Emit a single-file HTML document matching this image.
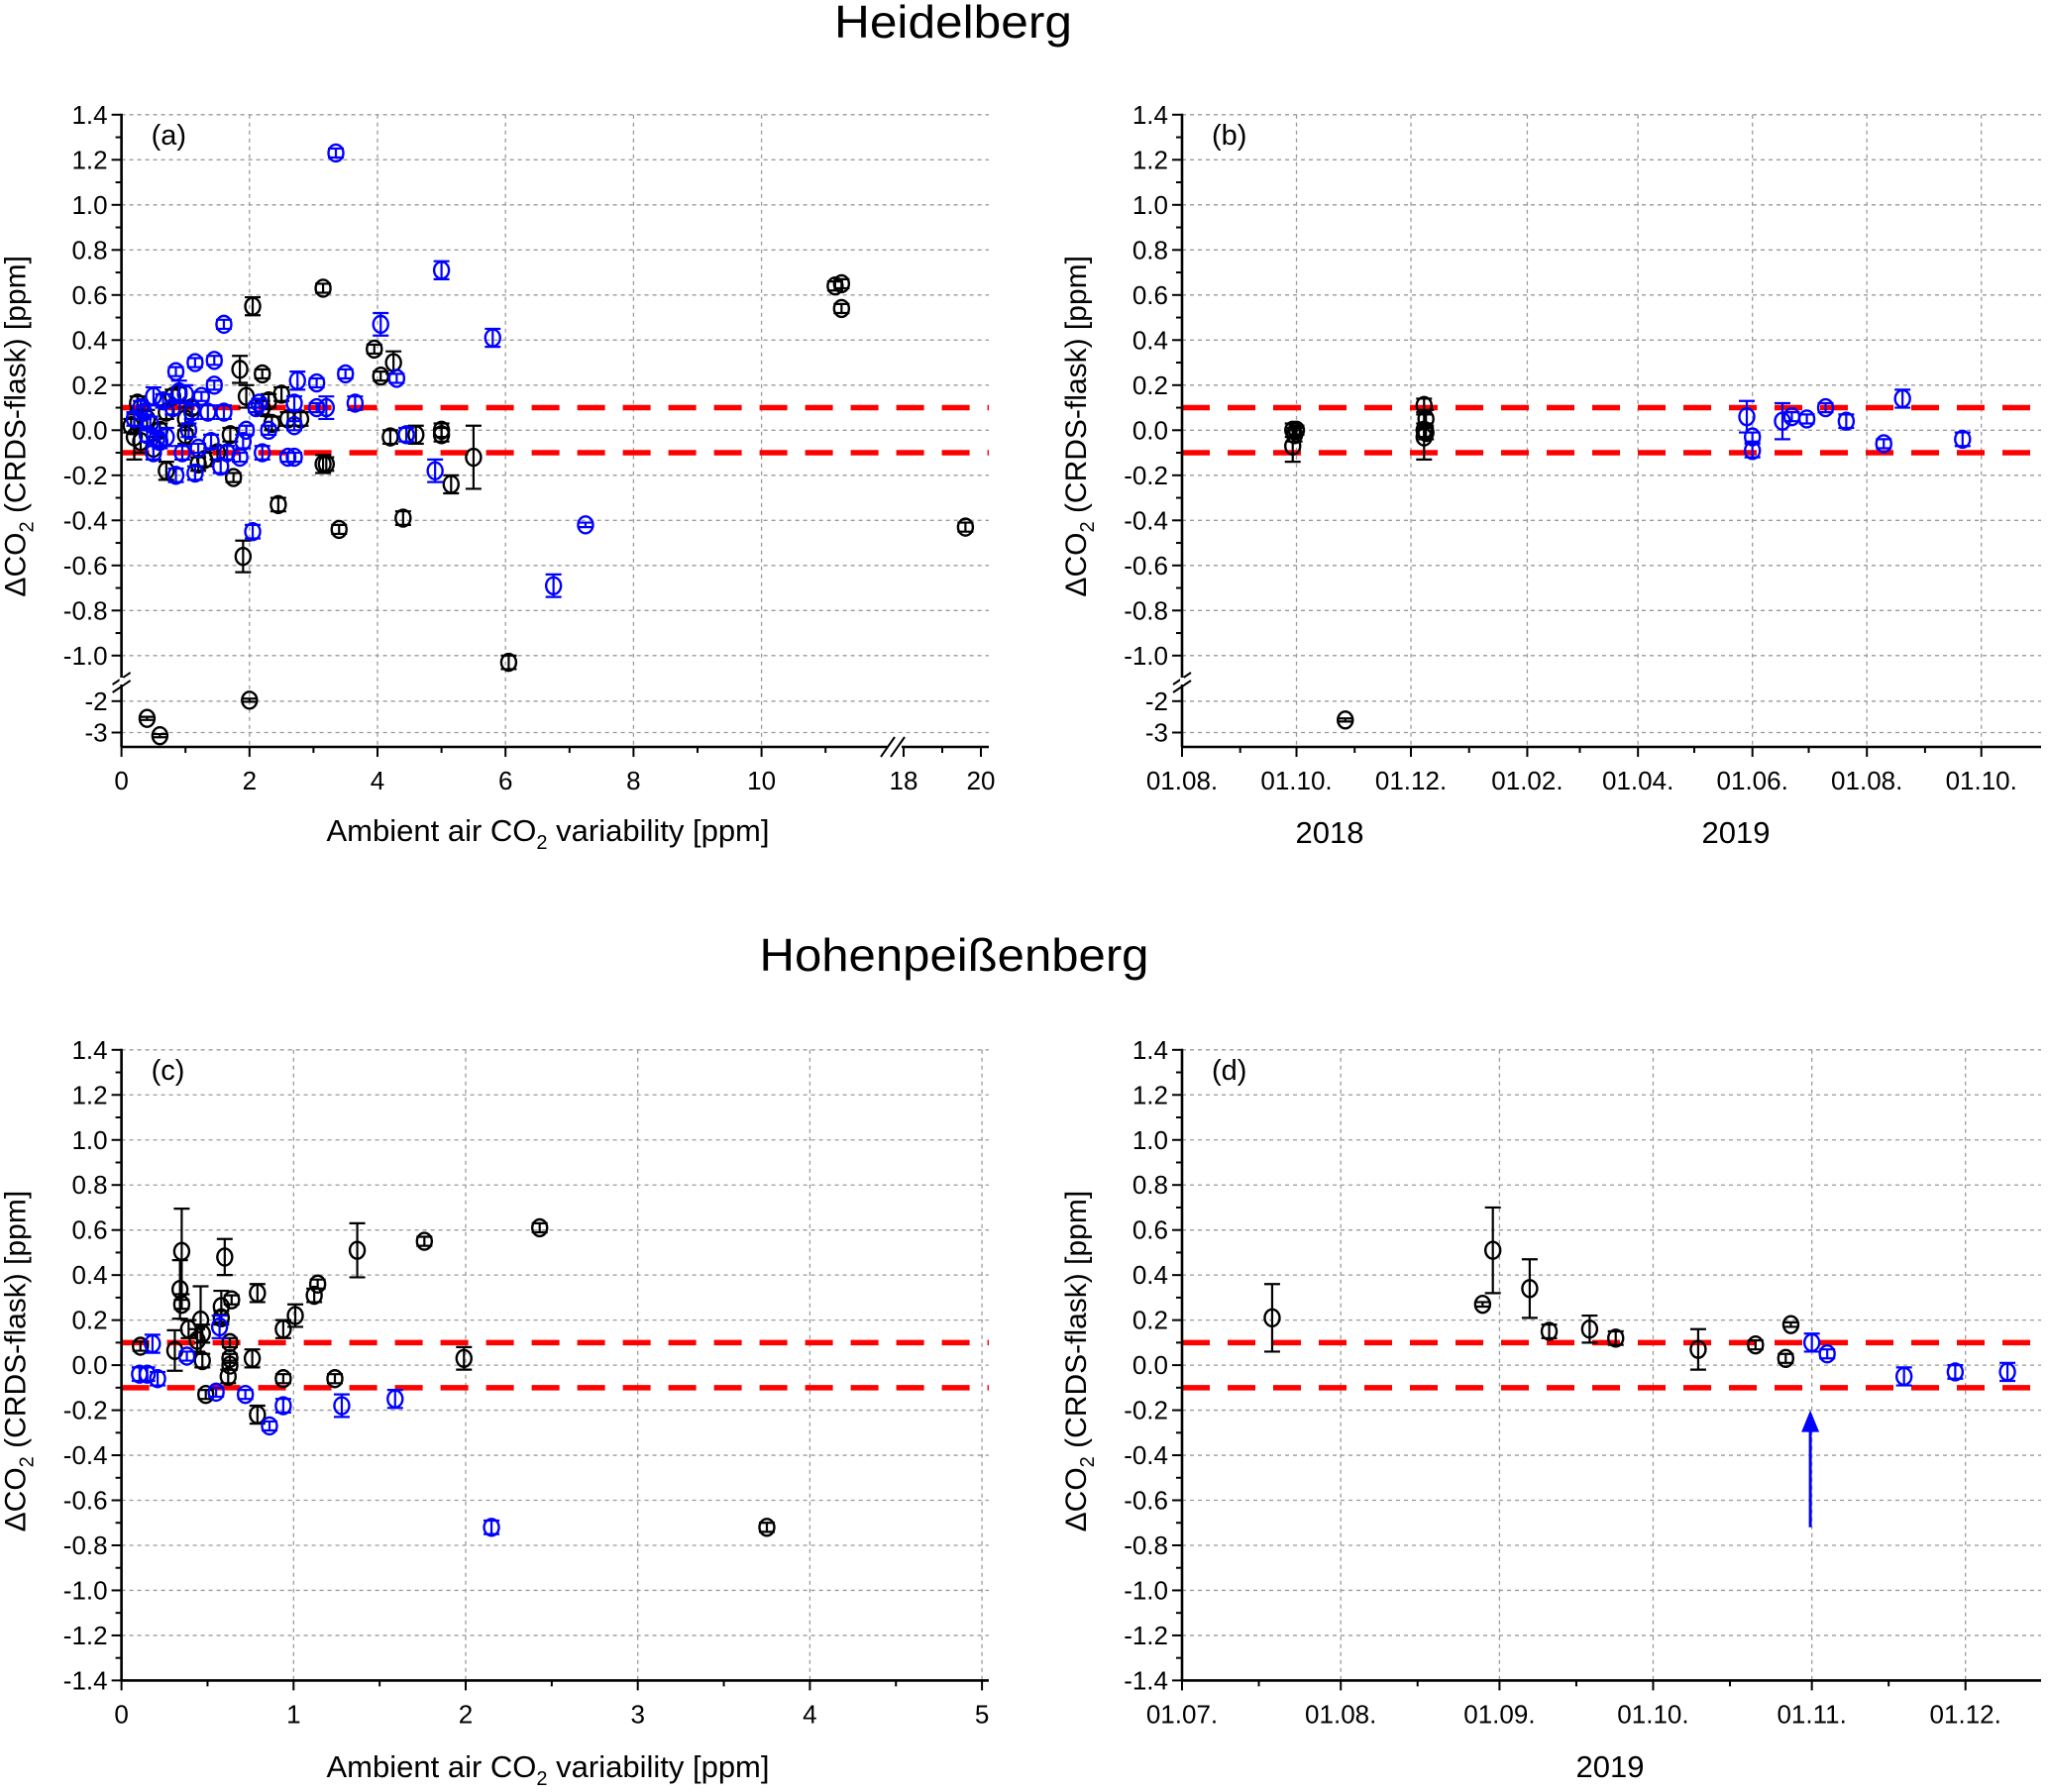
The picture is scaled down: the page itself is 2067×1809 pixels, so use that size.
<!DOCTYPE html>
<html><head><meta charset="utf-8"><style>
html,body{margin:0;padding:0;background:#fff}
svg{display:block}
text{font-family:"Liberation Sans",Arial,sans-serif}
</style></head><body>
<svg id="fig" width="2067" height="1809" viewBox="0 0 2067 1809" xmlns="http://www.w3.org/2000/svg">
<text x="962" y="38" font-size="46" text-anchor="middle" font-family="DejaVu Sans, sans-serif" textLength="240" lengthAdjust="spacingAndGlyphs">Heidelberg</text>
<text x="963" y="980" font-size="46" text-anchor="middle" font-family="DejaVu Sans, sans-serif" textLength="393" lengthAdjust="spacingAndGlyphs">Hohenpeißenberg</text>
<g id="plots"></g>
</svg>
<script>
// ---- data: [x, y, err] ----
const aBlack=[[0.15,0.02,.03],[0.2,-0.03,.1],[0.25,0.12,.03],[0.3,-0.05,.05],[0.4,0.05,.04],[0.5,-0.08,.05],[0.6,0.0,.03],[0.7,0.08,.03],[0.7,-0.18,.04],[0.8,0.15,.03],[0.9,0.16,.03],[1.0,0.05,.05],[1.0,-0.02,.04],[1.1,0.1,.03],[1.2,-0.15,.03],[1.3,-0.13,.03],[1.5,-0.1,.03],[1.7,-0.02,.03],[1.75,-0.21,.02],[1.85,0.27,.06],[1.95,0.15,.05],[1.9,-0.56,.07],[2.05,0.55,.04],[2.2,0.25,.02],[2.2,0.1,.03],[2.3,0.13,.03],[2.35,0.03,.03],[2.5,0.16,.03],[2.45,-0.33,.03],[2.6,0.05,.03],[2.8,0.05,.03],[3.15,0.63,.02],[3.15,-0.15,.04],[3.2,-0.15,.03],[3.4,-0.44,.02],[3.95,0.36,.02],[4.05,0.24,.02],[4.25,0.3,.05],[4.2,-0.03,.03],[4.4,-0.39,.03],[4.6,-0.02,.04],[5.0,0.0,.03],[5.0,-0.02,.03],[5.15,-0.24,.04],[5.5,-0.12,.14],[6.05,-1.03,.03],[11.15,0.64,.02],[11.25,0.65,.02],[11.25,0.54,.02],[19.6,-0.43,.02],[0.4,-2.55,.05],[0.6,-3.1,.05],[2.0,-1.97,.05]];
const aBlue=[[0.2,0.05,.03],[0.3,0.1,.03],[0.35,0.08,.03],[0.4,-0.02,.03],[0.45,0.03,.03],[0.5,0.15,.04],[0.5,-0.1,.03],[0.55,-0.04,.03],[0.6,-0.05,.03],[0.65,0.13,.03],[0.7,-0.03,.04],[0.8,0.1,.03],[0.85,0.26,.02],[0.85,-0.2,.03],[0.9,0.17,.05],[0.95,-0.1,.03],[1.0,0.16,.04],[1.05,0.0,.03],[1.1,0.08,.03],[1.15,0.3,.02],[1.15,-0.19,.03],[1.2,-0.08,.02],[1.25,0.15,.02],[1.35,0.08,.03],[1.4,-0.05,.03],[1.45,0.2,.02],[1.45,0.31,.02],[1.55,-0.16,.03],[1.6,0.08,.03],[1.6,0.47,.02],[1.65,-0.1,.03],[1.85,-0.12,.02],[1.9,-0.05,.03],[1.95,0.0,.02],[2.05,-0.45,.03],[2.1,0.1,.02],[2.15,0.12,.02],[2.2,-0.1,.03],[2.3,0.0,.02],[2.6,-0.12,.02],[2.7,-0.12,.02],[2.7,0.02,.02],[2.7,0.12,.03],[2.75,0.22,.04],[3.05,0.21,.02],[3.05,0.1,.02],[3.2,0.1,.05],[3.35,1.23,.02],[3.5,0.25,.02],[3.65,0.12,.03],[4.05,0.47,.05],[4.3,0.23,.02],[4.45,-0.02,.03],[4.9,-0.18,.05],[5.0,0.71,.04],[5.8,0.41,.04],[6.75,-0.69,.05],[7.25,-0.42,.01]];
// panel b: days since 01.08.2018
const bBlack=[[59,0.0,.03],[59,-0.07,.07],[60,-0.02,.03],[61,0.0,.02],[87,-2.6,.05],[129,0.11,.03],[129,0.0,.03],[129,-0.03,.1],[130,0.05,.04],[130,-0.01,.03]];
const bBlue=[[301,0.06,.07],[304,-0.03,.02],[304,-0.09,.03],[320,0.04,.08],[325,0.06,.02],[333,0.05,.02],[343,0.1,.02],[354,0.04,.03],[374,-0.06,.02],[384,0.14,.04],[416,-0.04,.03]];
const cBlack=[[0.11,0.084,.02],[0.35,0.505,.19],[0.34,0.336,.13],[0.35,0.27,.02],[0.39,0.16,.04],[0.44,0.11,.05],[0.46,0.2,.15],[0.47,0.14,.04],[0.47,0.02,.03],[0.31,0.065,.09],[0.58,0.26,.07],[0.58,0.21,.03],[0.6,0.48,.08],[0.64,0.29,.02],[0.63,0.1,.02],[0.63,0.03,.02],[0.63,0.0,.02],[0.62,-0.05,.03],[0.49,-0.13,.02],[0.76,0.03,.04],[0.79,0.32,.04],[0.79,-0.22,.04],[0.94,0.16,.04],[0.94,-0.06,.02],[1.01,0.22,.05],[1.12,0.31,.03],[1.14,0.36,.02],[1.24,-0.06,.02],[1.37,0.51,.12],[1.76,0.55,.02],[1.99,0.03,.05],[2.43,0.61,.02],[3.75,-0.72,.02]];
const cBlue=[[0.105,-0.04,.03],[0.18,0.095,.04],[0.15,-0.04,.03],[0.21,-0.06,.03],[0.38,0.04,.02],[0.57,0.17,.05],[0.55,-0.12,.02],[0.72,-0.13,.02],[0.86,-0.27,.02],[0.94,-0.18,.03],[1.28,-0.18,.05],[1.59,-0.15,.04],[2.15,-0.72,.03]];
// panel d: days since 01.07.2019
const dBlack=[[17.6,0.21,.15],[58.7,0.27,.01],[60.7,0.51,.19],[67.9,0.34,.13],[71.7,0.15,.03],[79.6,0.16,.06],[84.7,0.12,.03],[100.8,0.07,.09],[112,0.09,.02],[117.9,0.03,.02],[118.9,0.18,.01]];
const dBlue=[[123,0.1,.04],[126,0.05,.02],[141,-0.05,.04],[151,-0.03,.03],[161.2,-0.03,.04]];
const dArrow=[122.7,-0.72,-0.2];
const topYTicks=["1.4","1.2","1.0","0.8","0.6","0.4","0.2","0.0","-0.2","-0.4","-0.6","-0.8","-1.0"];
const botYTicks=["1.4","1.2","1.0","0.8","0.6","0.4","0.2","0.0","-0.2","-0.4","-0.6","-0.8","-1.0","-1.2","-1.4"];
const aXTicks=[0,2,4,6,8,10,18,20];
const bXTickDays=[0,61,122,184,243,304,365,426];
const bXTickLabels=["01.08.","01.10.","01.12.","01.02.","01.04.","01.06.","01.08.","01.10."];
const cXTicks=[0,1,2,3,4,5];
const dXTickDays=[0,31,62,92,123,153];
const dXTickLabels=["01.07.","01.08.","01.09.","01.10.","01.11.","01.12."];
const limits=[0.1,-0.1];

const NS="http://www.w3.org/2000/svg";
const root=document.getElementById('plots');
function el(tag,attrs,parent){const e=document.createElementNS(NS,tag);for(const k in attrs)e.setAttribute(k,attrs[k]);(parent||root).appendChild(e);return e;}
function ln(g,x1,y1,x2,y2,st,w,dash){const e=el('line',{x1,y1,x2,y2,stroke:st,'stroke-width':w},g);if(dash)e.setAttribute('stroke-dasharray',dash);return e;}
function txt(g,x,y,s,size,anchor){const t=el('text',{x,y,'font-size':size,'text-anchor':anchor||'middle'},g);t.textContent=s;return t;}

// scales
const yTop=v=>v>=-1.1?434.3-v*227.5:707.8+(-2-v)*31.7;
const yBot=v=>1378.1-v*227.35;
const xA=v=>v<=13?122.6+v*64.6:912+(v-18)*39;
const xB=d=>1193+d*1.8937;
const xC=v=>122.6+v*173.7;
const xD=d=>1193+d*5.168;

function markers(g,data,xs,ys,color,nm){
  data.forEach(p=>{
    const cx=xs(p[0]),cy=ys(p[1]),y1=ys(p[1]+p[2]),y2=ys(p[1]-p[2]);
    const m=el('g',{},g);
    
    
    ln(m,cx,y1,cx,y2,color,2.2);
    ln(m,cx-8,y1,cx+8,y1,color,2.2);
    ln(m,cx-8,y2,cx+8,y2,color,2.2);
    el('ellipse',{cx,cy,rx:7.5,ry:8.5,fill:'none',stroke:color,'stroke-width':2.4},m);
  });
}

function panel(o){
  const g=el('g',{});
  
  
  o.yVals.forEach(v=>{ if(v!==o.yMin) ln(g,o.x0,o.ys(v),o.xR,o.ys(v),'#9a9a9a',1.3,'4 4'); });
  o.xGrid.forEach(x=>ln(g,x,o.ys(o.yMax),x,o.yAxis,'#9a9a9a',1.3,'4 4'));
  limits.forEach(v=>{const l=ln(g,o.x0,o.ys(v),o.xR,o.ys(v),'#ff0000',5.5,'28 18');});
  markers(g,o.black,o.xs,o.ys,'#000','point-black');
  markers(g,o.blue,o.xs,o.ys,'#0000ff','point-blue');
  ln(g,o.x0,o.ys(o.yMax)-1,o.x0,o.yAxis,'#000',2.6);
  ln(g,o.x0,o.yAxis,o.xR,o.yAxis,'#000',2.6);
  o.yLabels.forEach((s,i)=>{const v=parseFloat(s);const y=o.ys(v);ln(g,o.x0-10,y,o.x0,y,'#000',2);txt(g,o.x0-14,y+9,s,26,'end');});
  o.yMinor.forEach(v=>ln(g,o.x0-6,o.ys(v),o.x0,o.ys(v),'#000',2));
  o.xTicks.forEach(t=>{ln(g,t[0],o.yAxis,t[0],o.yAxis+10,'#000',2);txt(g,t[0],o.yAxis+43,t[1],26);});
  o.xMinor.forEach(x=>ln(g,x,o.yAxis,x,o.yAxis+6,'#000',2));
  txt(g,o.x0+30,o.ys(1.4)+30,o.label,29,'start');
  const yt=el('text',{x:0,y:0,'font-size':30,'text-anchor':'middle',transform:`translate(${o.x0-97},${o.ys(0)-4}) rotate(-90)`},g);
  
  yt.innerHTML='ΔCO<tspan font-size="20" dy="8">2</tspan><tspan dy="-8"> (CRDS-flask) [ppm]</tspan>';
  return g;
}

const topVals=[];for(let i=0;i<=12;i++)topVals.push(+(1.4-i*0.2).toFixed(1));
const botVals=[];for(let i=0;i<=14;i++)botVals.push(+(1.4-i*0.2).toFixed(1));
const topMinor=[];for(let i=0;i<12;i++)topMinor.push(1.3-i*0.2);
const botMinor=[];for(let i=0;i<14;i++)botMinor.push(1.3-i*0.2);

function breakY(g,x0){const y=687;ln(g,x0-9,y+4,x0+9,y-8,'#000',2);ln(g,x0-9,y+12,x0+9,y,'#000',2);el('rect',{x:x0-2,y:y-3,width:4,height:7,fill:'#fff'},g);}

let ga=panel({name:'panel-a',x0:122.6,xR:998,yAxis:754,ys:yTop,xs:xA,yMax:1.4,yMin:-99,yVals:topVals.concat([-2,-3]),
  xGrid:[2,4,6,8,10].map(xA),black:aBlack,blue:aBlue,
  yLabels:topYTicks.concat(["-2","-3"]),yMinor:topMinor,
  xTicks:aXTicks.map(v=>[xA(v),String(v)]),xMinor:[1,3,5,7,9,11,19].map(xA),label:'(a)'});
breakY(ga,122.6);
el('rect',{x:896,y:740,width:14,height:22,fill:'#fff'},ga);
ln(ga,889,764,903,744,'#000',2);ln(ga,899,764,913,744,'#000',2);
let at=txt(ga,553,849,'',31);
at.innerHTML='Ambient air CO<tspan font-size="20" dy="8">2</tspan><tspan dy="-8"> variability [ppm]</tspan>';

let gb=panel({name:'panel-b',x0:1193,xR:2060,yAxis:754,ys:yTop,xs:xB,yMax:1.4,yMin:-99,yVals:topVals.concat([-2,-3]),
  xGrid:bXTickDays.slice(1).map(xB),black:bBlack,blue:bBlue,
  yLabels:topYTicks.concat(["-2","-3"]),yMinor:topMinor,
  xTicks:bXTickDays.map((d,i)=>[xB(d),bXTickLabels[i]]),xMinor:[31,92,153,212,273,334,396].map(xB),label:'(b)'});
breakY(gb,1193);
txt(gb,1342,851,'2018',31);txt(gb,1752,851,'2019',31);

let gc=panel({name:'panel-c',x0:122.6,xR:998,yAxis:1696.4,ys:yBot,xs:xC,yMax:1.4,yMin:-1.4,yVals:botVals,
  xGrid:[1,2,3,4,5].map(xC),black:cBlack,blue:cBlue,
  yLabels:botYTicks,yMinor:botMinor,
  xTicks:cXTicks.map(v=>[xC(v),String(v)]),xMinor:[0.5,1.5,2.5,3.5,4.5].map(xC),label:'(c)'});
let ct=txt(gc,553,1794,'',31);
ct.innerHTML='Ambient air CO<tspan font-size="20" dy="8">2</tspan><tspan dy="-8"> variability [ppm]</tspan>';

let gd=panel({name:'panel-d',x0:1193,xR:2060,yAxis:1696.4,ys:yBot,xs:xD,yMax:1.4,yMin:-1.4,yVals:botVals,
  xGrid:dXTickDays.slice(1).map(xD),black:dBlack,blue:dBlue,
  yLabels:botYTicks,yMinor:botMinor,
  xTicks:dXTickDays.map((d,i)=>[xD(d),dXTickLabels[i]]),xMinor:[15,46,77,107,138].map(xD),label:'(d)'});
txt(gd,1625,1794,'2019',31);
const ax=xD(dArrow[0]),ay1=yBot(dArrow[1]),ay2=yBot(dArrow[2]);
const arr=el('g',{},gd);


ln(arr,ax,ay1,ax,ay2+18,'#0000ff',3);
el('polygon',{points:`${ax-9},${ay2+22} ${ax+9},${ay2+22} ${ax},${ay2}`,fill:'#0000ff'},arr);
</script>
</body></html>
